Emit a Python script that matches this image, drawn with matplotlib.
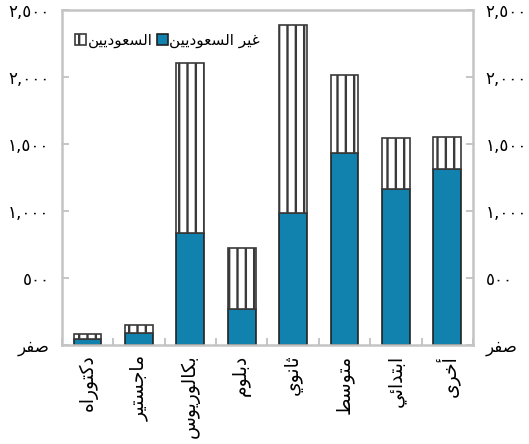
import matplotlib
matplotlib.use('Agg')
import matplotlib.pyplot as plt
import numpy as np

# Arabic letters -> presentation forms (matplotlib does no shaping itself)
DUAL = {'ب': 0xFE8F, 'ت': 0xFE95, 'ث': 0xFE99, 'ج': 0xFE9D, 'ح': 0xFEA1, 'خ': 0xFEA5,
        'س': 0xFEB1, 'ص': 0xFEB9, 'ط': 0xFEC1, 'ع': 0xFEC9, 'غ': 0xFECD, 'ف': 0xFED1,
        'ك': 0xFED9, 'ل': 0xFEDD, 'م': 0xFEE1, 'ن': 0xFEE5, 'ه': 0xFEE9, 'ي': 0xFEF1,
        'ئ': 0xFE89}
RIGHT = {'ا': 0xFE8D, 'أ': 0xFE83, 'د': 0xFEA9, 'ر': 0xFEAD, 'و': 0xFEED, 'ى': 0xFEEF}


def ar(text):
    # digits stay left-to-right, only letters are shaped and reversed
    if not any(c in DUAL or c in RIGHT for c in text):
        return text
    out = []
    for i, c in enumerate(text):
        prev = text[i - 1] if i > 0 else ' '
        nxt = text[i + 1] if i < len(text) - 1 else ' '
        jp = prev in DUAL
        if c in DUAL:
            jn = nxt in DUAL or nxt in RIGHT
            base = DUAL[c]
            off = 3 if (jp and jn) else 1 if jp else 2 if jn else 0
            out.append(chr(base + off))
        elif c in RIGHT:
            out.append(chr(RIGHT[c] + (1 if jp else 0)))
        else:
            out.append(c)
    return ''.join(out[::-1])


# data
categories = ['دكتوراه', 'ماجستير', 'بكالوريوس', 'دبلوم', 'ثانوي', 'متوسط', 'ابتدائي', 'أخرى']
non_saudi = [45, 90, 836, 269, 985, 1433, 1164, 1313]
saudi = [37, 59, 1268, 455, 1403, 582, 381, 239]
yticks = [0, 500, 1000, 1500, 2000, 2500]
ytick_labels = ['صفر', '٥٠٠', '١,٠٠٠', '١,٥٠٠', '٢,٠٠٠', '٢,٥٠٠']

plt.rcParams['font.family'] = ['DejaVu Sans']
plt.rcParams['hatch.linewidth'] = 1.7

fig = plt.figure(figsize=(5.29, 4.44), dpi=100)
ax = fig.add_axes([0.117, 0.223, 0.777, 0.754])

x = np.arange(len(categories))
blue = '#1082ad'
b1 = ax.bar(x, non_saudi, width=0.54, color=blue, edgecolor='#222222', linewidth=1.2,
            label=ar('غير السعوديين'))
b2 = ax.bar(x, saudi, width=0.54, bottom=non_saudi, color='white', edgecolor='#3a3a3a',
            linewidth=1.2, hatch='||', label=ar('السعوديين'))

ax.set_xlim(-0.5, len(categories) - 0.5)
ax.set_ylim(0, 2500)
ax.set_yticks(yticks)
ax.set_yticklabels([ar(t) for t in ytick_labels], fontsize=12)
ax.set_xticks(x)
ax.set_xticklabels([ar(c) for c in categories], rotation=90, fontsize=13.5)
ax.set_xticks(np.arange(len(categories) + 1) - 0.5, minor=True)

ax.tick_params(axis='y', direction='in', length=5, color='#bbbbbb', width=1.2,
               left=True, right=True, labelleft=True, labelright=True, pad=9)
ax.tick_params(axis='x', which='major', length=0, pad=7)
ax.tick_params(axis='x', which='minor', direction='in', length=5, color='#bbbbbb', width=1.2)

for s in ax.spines.values():
    s.set_color('#c4c4c4')
    s.set_linewidth(1.8)

ax.legend(handles=[b2, b1], loc='upper left', bbox_to_anchor=(0.01, 0.96), ncol=2,
          frameon=False, fontsize=11, handlelength=0.7, handleheight=0.7,
          handletextpad=0.1, columnspacing=0.3, borderaxespad=0.2)

fig.savefig('out.png', dpi=100)
